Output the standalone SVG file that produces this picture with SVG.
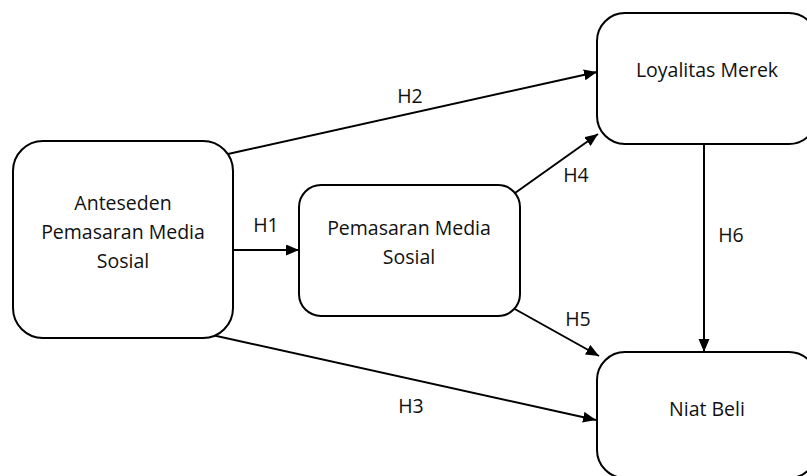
<svg xmlns="http://www.w3.org/2000/svg" width="807" height="476" viewBox="0 0 807 476">
<defs>
<marker id="ah" markerUnits="userSpaceOnUse" markerWidth="14" markerHeight="12" refX="13" refY="5.5" orient="auto">
<path d="M0,0 L13,5.5 L0,11 z" fill="#000"/>
</marker>
<style>
.box{fill:#fff;stroke:#000;stroke-width:2}
.t{font-family:"Open Sans","Liberation Sans",sans-serif;font-size:19.5px;fill:#111;text-anchor:middle}
.c{stroke:#000;stroke-width:2;fill:none;marker-end:url(#ah)}
</style>
</defs>
<rect width="807" height="476" fill="#fff"/>
<g id="connectors">
<line class="c" x1="233" y1="250" x2="299" y2="250"/>
<line class="c" x1="228" y1="154" x2="597" y2="72"/>
<line class="c" x1="212" y1="335" x2="596" y2="420"/>
<line class="c" x1="515" y1="193" x2="598" y2="134"/>
<line class="c" x1="513" y1="308" x2="599" y2="356"/>
<line class="c" x1="704" y1="144" x2="704" y2="352"/>
<text class="t" x="266" y="232">H1</text>
<text class="t" x="410" y="103">H2</text>
<text class="t" x="411" y="413">H3</text>
<text class="t" x="576" y="182">H4</text>
<text class="t" x="578" y="326">H5</text>
<text class="t" x="731" y="242">H6</text>
</g>
<g id="anteseden">
<rect class="box" x="13" y="141" width="220" height="197" rx="30"/>
<text class="t" x="123" y="210">Anteseden</text>
<text class="t" x="123" y="239">Pemasaran Media</text>
<text class="t" x="123" y="268">Sosial</text>
</g>
<g id="pemasaran">
<rect class="box" x="299" y="185" width="221" height="131" rx="22"/>
<text class="t" x="409" y="235">Pemasaran Media</text>
<text class="t" x="409" y="264">Sosial</text>
</g>
<g id="loyalitas">
<rect class="box" x="597" y="13" width="220" height="131" rx="28"/>
<text class="t" x="707" y="77">Loyalitas Merek</text>
</g>
<g id="niat">
<rect class="box" x="597" y="352" width="220" height="126" rx="28"/>
<text class="t" x="707" y="416">Niat Beli</text>
</g>
</svg>
